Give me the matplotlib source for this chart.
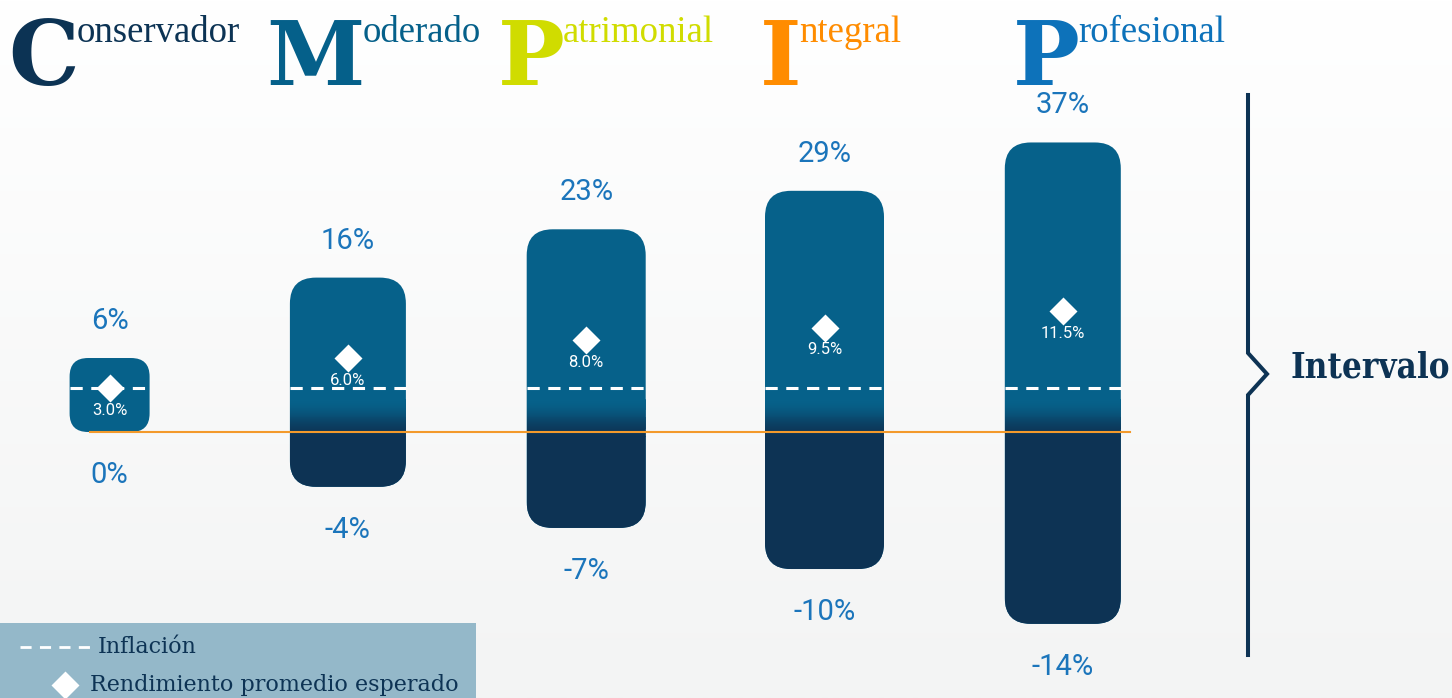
import matplotlib.pyplot as plt
import numpy as np
from matplotlib.patches import FancyBboxPatch, Rectangle
from matplotlib.lines import Line2D
from matplotlib.transforms import IdentityTransform
from matplotlib.colors import to_rgb

# datos del grafico
perfiles = ['Conservador', 'Moderado', 'Patrimonial', 'Integral', 'Profesional']
maximo = [6, 16, 23, 29, 37]
minimo = [0, -4, -7, -10, -14]
rendimiento = [3.0, 6.0, 8.0, 9.5, 11.5]
inflacion = 3.0
colores_titulo = ['#0C3354', '#05608A', '#D0DC00', '#FF8C00', '#0D72BA']

# estilo
azul = '#06618A'
marino = '#0D3354'
azul_txt = '#1B75BB'
naranja = '#F39A2B'
anchos = [80, 116, 119, 119, 116]  # ancho de barra en px

W, H = 1452, 698
fig = plt.figure(figsize=(W / 100, H / 100), dpi=100)


def fpx(x, y):
    # px desde arriba-izquierda -> fraccion de figura
    return x / W, 1 - y / H


# fondo degradado
bg = fig.add_axes([0, 0, 1, 1])
bg.axis('off')
c0 = np.array(to_rgb('#FFFFFF'))
c1 = np.array(to_rgb('#F3F4F4'))
g = np.linspace(0, 1, 256)[:, None, None]
bg.imshow(c0 + (c1 - c0) * g, aspect='auto', extent=[0, 1, 0, 1])


# escala: positivos comprimidos, negativos lineales
def fwd(y):
    y = np.asarray(y, float)
    return np.where(y >= 0, np.abs(y) ** 0.75, 0.71 * y)


def inv(u):
    u = np.asarray(u, float)
    return np.where(u >= 0, np.abs(u) ** (1 / 0.75), u / 0.71)


ax = fig.add_axes([0, 0, 1, 1])
ax.patch.set_alpha(0)
ax.axis('off')
ax.set_yscale('function', functions=(fwd, inv))
escala = 19.3
y_cero = 432
x0 = 109.6
paso = 238.3
ylim = (float(inv(-(H - y_cero) / escala)), float(inv(y_cero / escala)))
xlim = (-x0 / paso, (W - x0) / paso)
ax.set_ylim(*ylim)
ax.set_xlim(*xlim)

tr = ax.transData
c_az = np.array(to_rgb(azul))
c_ma = np.array(to_rgb(marino))
for i in range(len(perfiles)):
    xc, ytop = tr.transform((i, maximo[i]))
    _, ybot = tr.transform((i, minimo[i]))
    _, yz = tr.transform((i, 0))
    w = anchos[i]
    r = min(26, (ytop - ybot) / 4)
    caja = FancyBboxPatch((xc - w / 2, ybot), w, ytop - ybot,
                          boxstyle=f'round,pad=0,rounding_size={r}',
                          transform=IdentityTransform(), fc=azul, ec='none', zorder=2)
    ax.add_patch(caja)
    if minimo[i] < 0:
        g_top, g_bot = yz + 32, yz - 6
        n = 40
        alto = (g_top - g_bot) / n
        for k in range(n):
            t = (k + 0.5) / n
            t = t * t * (3 - 2 * t)
            col = c_az + (c_ma - c_az) * t
            rc = Rectangle((xc - w / 2, g_top - (k + 1) * alto), w, alto + 0.6,
                           transform=IdentityTransform(), fc=col, ec='none', zorder=2.1)
            ax.add_patch(rc)
            rc.set_clip_path(caja)
        rc = Rectangle((xc - w / 2, ybot), w, g_bot - ybot,
                       transform=IdentityTransform(), fc=marino, ec='none', zorder=2.1)
        ax.add_patch(rc)
        rc.set_clip_path(caja)

    # inflacion
    mw = w / 2 / paso
    ax.plot([i - mw, i + mw], [inflacion, inflacion], color='white', lw=2.2,
            dashes=(4, 2.8), zorder=4)
    # rendimiento esperado
    ax.plot(i, rendimiento[i], marker='D', ms=14, color='white', mec='none', zorder=5)
    ax.annotate(f'{rendimiento[i]:.1f}%', (i, rendimiento[i]), xytext=(0, -22),
                textcoords='offset pixels', ha='center', va='center',
                color='white', fontsize=12, family='Roboto', zorder=5)
    ax.annotate(f'{maximo[i]}%', (i, maximo[i]), xytext=(0, 37),
                textcoords='offset pixels', ha='center', va='center',
                color=azul_txt, fontsize=21, family='Roboto')
    ax.annotate(f'{minimo[i]}%', (i, minimo[i]), xytext=(0, -43),
                textcoords='offset pixels', ha='center', va='center',
                color=azul_txt, fontsize=21, family='Roboto')

ax.axhline(0, 90 / W, 1130 / W, color=naranja, lw=1.5, zorder=6)
ax.set_ylim(*ylim)
ax.set_xlim(*xlim)

# titulos
letras_x = [8, 266, 498, 760, 1013]
rend = fig.canvas.get_renderer()
for i, nombre in enumerate(perfiles):
    t = fig.text(*fpx(letras_x[i], 85), nombre[0], fontsize=64, fontweight='bold',
                 family='DejaVu Serif', color=colores_titulo[i], va='baseline', ha='left')
    bb = t.get_window_extent(rend)
    fig.text((bb.x1 - 2) / W, fpx(0, 42)[1], nombre[1:], fontsize=26.5,
             family='Liberation Serif', color=colores_titulo[i], va='baseline', ha='left')

# llave "Intervalo"
bx = [1248, 1248, 1267, 1248, 1248]
by = [95, 353, 374, 395, 655]
fig.add_artist(Line2D([x / W for x in bx], [1 - y / H for y in by], transform=fig.transFigure,
                      color=marino, lw=2.9, solid_joinstyle='miter'))
fig.text(*fpx(1290, 368), 'Intervalo', fontsize=25, fontweight='bold', family='DejaVu Serif',
         fontstretch='condensed', color=marino, va='center', ha='left')

# leyenda
lg = fig.add_axes([0, 0, 476 / W, 75 / H])
lg.set_xlim(0, 476)
lg.set_ylim(75, 0)
lg.axis('off')
lg.add_patch(Rectangle((0, 0), 476, 75, fc='#94B8C9', ec='none'))
lg.plot([20, 95], [24, 24], color='white', lw=2, dashes=(4, 3))
lg.text(98, 24, 'Inflación', fontsize=16, family='DejaVu Serif', color=marino, va='center')
lg.plot(65, 62, marker='D', ms=14, color='white', mec='none')
lg.text(90, 62, 'Rendimiento promedio esperado', fontsize=16, family='DejaVu Serif',
        color=marino, va='center')

fig.savefig('out.png', dpi=100)
